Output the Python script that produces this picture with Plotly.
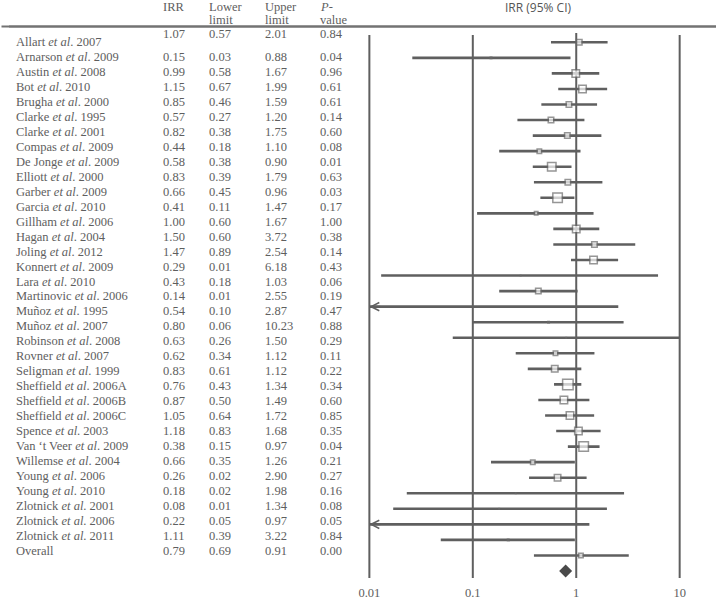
import math
import plotly.graph_objects as go

# ---------------- data ----------------
studies = [
    "Allart <i>et al</i>. 2007", "Arnarson <i>et al</i>. 2009", "Austin <i>et al</i>. 2008",
    "Bot <i>et al</i>. 2010", "Brugha <i>et al</i>. 2000", "Clarke <i>et al</i>. 1995",
    "Clarke <i>et al</i>. 2001", "Compas <i>et al</i>. 2009", "De Jonge <i>et al</i>. 2009",
    "Elliott <i>et al</i>. 2000", "Garber <i>et al</i>. 2009", "Garcia <i>et al</i>. 2010",
    "Gillham <i>et al</i>. 2006", "Hagan <i>et al</i>. 2004", "Joling <i>et al</i>. 2012",
    "Konnert <i>et al</i>. 2009", "Lara <i>et al</i>. 2010", "Martinovic <i>et al</i>. 2006",
    "Muñoz <i>et al</i>. 1995", "Muñoz <i>et al</i>. 2007", "Robinson <i>et al</i>. 2008",
    "Rovner <i>et al</i>. 2007", "Seligman <i>et al</i>. 1999", "Sheffield <i>et al</i>. 2006A",
    "Sheffield <i>et al</i>. 2006B", "Sheffield <i>et al</i>. 2006C", "Spence <i>et al</i>. 2003",
    "Van ‘t Veer <i>et al</i>. 2009", "Willemse <i>et al</i>. 2004", "Young <i>et al</i>. 2006",
    "Young <i>et al</i>. 2010", "Zlotnick <i>et al</i>. 2001", "Zlotnick <i>et al</i>. 2006",
    "Zlotnick <i>et al</i>. 2011",
]
irr = [1.07, 0.15, 0.99, 1.15, 0.85, 0.57, 0.82, 0.44, 0.58, 0.83,
       0.66, 0.41, 1.00, 1.50, 1.47, 0.29, 0.43, 0.14, 0.54, 0.80,
       0.63, 0.62, 0.83, 0.76, 0.87, 1.05, 1.18, 0.38, 0.66, 0.26,
       0.18, 0.08, 0.22, 1.11]
lower = [0.57, 0.026, 0.58, 0.67, 0.46, 0.27, 0.38, 0.18, 0.38, 0.39,
         0.45, 0.11, 0.60, 0.60, 0.89, 0.013, 0.18, 0.006, 0.10, 0.064,
         0.26, 0.34, 0.61, 0.43, 0.50, 0.64, 0.83, 0.15, 0.35, 0.023,
         0.017, 0.006, 0.049, 0.39]
upper = [2.01, 0.88, 1.67, 1.99, 1.59, 1.20, 1.75, 1.10, 0.90, 1.79,
         0.96, 1.47, 1.67, 3.72, 2.54, 6.18, 1.03, 2.55, 2.87, 10.23,
         1.50, 1.12, 1.12, 1.34, 1.49, 1.72, 1.68, 0.97, 1.26, 2.90,
         1.98, 1.34, 0.97, 3.22]
pvalue = [0.84, 0.04, 0.96, 0.61, 0.61, 0.14, 0.60, 0.08, 0.01, 0.63,
          0.03, 0.17, 1.00, 0.38, 0.14, 0.43, 0.06, 0.19, 0.47, 0.88,
          0.29, 0.11, 0.22, 0.34, 0.60, 0.85, 0.35, 0.04, 0.21, 0.27,
          0.16, 0.08, 0.05, 0.84]
# relative study weights (shown as box size)
weights = [7, 3, 9, 9, 7, 7, 7, 6, 10, 7,
           11, 5, 9, 7, 9, 1, 7, 0, 3, 1.5,
           6, 8, 12, 9, 9, 9, 11, 6, 8, 2,
           2, 0, 3, 6]
overall_label = "Overall"
overall_irr, overall_lower, overall_upper, overall_p = 0.79, 0.69, 0.91, 0.00

tick_values = [0.01, 0.1, 1, 10]
tick_labels = ["0.01", "0.1", "1", "10"]
header_cols = [("IRR", ""), ("Lower", "limit"), ("Upper", "limit"), ("<i>P</i>-", "value")]
axis_title = "IRR (95% CI)"

# ---------------- layout constants ----------------
W, H = 720, 600
XMIN, XMAX = 0.01, 10
PX_MIN, PX_MAX = 367, 683
PAD_DEC = 0.02
ppd = (PX_MAX - PX_MIN) / (math.log10(XMAX) - math.log10(XMIN))
dom_l = (PX_MIN - PAD_DEC * ppd) / W
dom_r = (PX_MAX + PAD_DEC * ppd) / W

ROW0, STEP = 42.3, 15.55          # plot rows
TROW0, TSTEP = 42.3, 14.95        # table rows
PLOT_TOP, PLOT_BOT = 30, 583
RULE_Y = 26.5


def py(p):
    return (p - ROW0) / STEP


def ty(p):
    return (p - TROW0) / TSTEP


def paper_y(p):
    return 1 - p / H


TXT = "#5e5e5e"
LINE = "#5f5f5f"
SERIF = "Liberation Serif, Times New Roman, serif"
FS = 12.5

n = len(studies)
rows = list(range(n))
overall_row = n

fig = go.Figure()

# vertical reference lines
for v in tick_values:
    top = 33 if v == 1 else 35
    fig.add_trace(go.Scatter(x=[v, v], y=[py(top), py(578)], mode="lines",
                             line=dict(color=LINE, width=2), hoverinfo="skip",
                             showlegend=False))

# whiskers
wx, wy = [], []
for i in rows:
    wx += [max(lower[i], XMIN), min(upper[i], XMAX), None]
    wy += [i, i, None]
fig.add_trace(go.Scatter(x=wx, y=wy, mode="lines", line=dict(color=LINE, width=2.6),
                         hoverinfo="skip", showlegend=False))

# boxes
bx = [irr[i] for i in rows if weights[i] > 0]
byy = [i for i in rows if weights[i] > 0]
bs = [max(weights[i] - 1.5, 0.5) for i in rows if weights[i] > 0]
fig.add_trace(go.Scatter(x=bx, y=byy, mode="markers",
                         marker=dict(symbol="square", size=bs, color="white",
                                     line=dict(color="#6a6a6a", width=1.5)),
                         hoverinfo="skip", showlegend=False))

# overall diamond
fig.add_trace(go.Scatter(x=[overall_irr], y=[overall_row], mode="markers",
                         marker=dict(symbol="diamond", size=10, color="#4a4a4a",
                                     line=dict(width=0)),
                         hoverinfo="skip", showlegend=False))

# header rule, drawn on the full-width table axes
fig.add_trace(go.Scatter(x=[0, W], y=[ty(RULE_Y), ty(RULE_Y)], xaxis="x2", yaxis="y2",
                         mode="lines", line=dict(color="#737373", width=2),
                         hoverinfo="skip", showlegend=False))

annotations = []
# header rule also as an annotation line in the top layer
annotations.append(dict(x=1, y=paper_y(RULE_Y), xref="paper", yref="paper",
                        ax=-W, ay=0, axref="pixel", ayref="pixel", text="",
                        showarrow=True, arrowhead=0, arrowwidth=1.8, arrowcolor="#737373",
                        standoff=0, startstandoff=0))

# arrows for truncated lower limits
for i in rows:
    if lower[i] < XMIN:
        annotations.append(dict(x=math.log10(XMIN), y=i, xref="x", yref="y",
                                ax=math.log10(XMIN) + 0.12, ay=i, axref="x", ayref="y",
                                text="", showarrow=True, arrowhead=5, arrowsize=0.8,
                                arrowwidth=2, arrowcolor=LINE, standoff=0))

# table text
col_x = [6, 156, 203, 260, 316]


def tann(x, row, text, yshift=0):
    return dict(x=x, y=row, xref="x2", yref="y2", text=text, showarrow=False,
                xanchor="left", yanchor="middle", borderpad=0, yshift=yshift,
                font=dict(family=SERIF, size=FS, color=TXT))


for i in rows:
    ys = 8 if i == 0 else 0
    annotations.append(tann(col_x[0], i, studies[i]))
    annotations.append(tann(col_x[1], i, f"{irr[i]:.2f}", ys))
    annotations.append(tann(col_x[2], i, f"{lower[i]:.2f}", ys))
    annotations.append(tann(col_x[3], i, f"{upper[i]:.2f}", ys))
    annotations.append(tann(col_x[4], i, f"{pvalue[i]:.2f}", ys))
annotations.append(tann(col_x[0], overall_row, overall_label))
annotations.append(tann(col_x[1], overall_row, f"{overall_irr:.2f}"))
annotations.append(tann(col_x[2], overall_row, f"{overall_lower:.2f}"))
annotations.append(tann(col_x[3], overall_row, f"{overall_upper:.2f}"))
annotations.append(tann(col_x[4], overall_row, f"{overall_p:.2f}"))

# header
for k, (l1, l2) in enumerate(header_cols):
    for txt, p in ((l1, 6.5), (l2, 20.0)):
        if txt:
            annotations.append(dict(x=col_x[k + 1] / W, y=paper_y(p), xref="paper", yref="paper",
                                    text=txt, showarrow=False, xanchor="left", yanchor="middle",
                                    borderpad=0, font=dict(family=SERIF, size=FS, color=TXT)))
annotations.append(dict(x=539 / W, y=paper_y(8), xref="paper", yref="paper", text=axis_title,
                        showarrow=False, xanchor="center", yanchor="middle",
                        font=dict(family="Open Sans, Noto Sans, sans-serif", size=12, color="#555")))

fig.update_layout(
    width=W, height=H, margin=dict(l=0, r=0, t=0, b=0),
    paper_bgcolor="white", plot_bgcolor="rgba(0,0,0,0)",
    showlegend=False,
    xaxis=dict(type="log", domain=[dom_l, dom_r],
               range=[math.log10(XMIN) - PAD_DEC, math.log10(XMAX) + PAD_DEC],
               tickvals=tick_values, ticktext=tick_labels, ticks="", showgrid=False,
               zeroline=False, showline=False, anchor="y",
               tickfont=dict(family=SERIF, size=FS, color=TXT)),
    yaxis=dict(domain=[paper_y(PLOT_BOT), paper_y(PLOT_TOP)],
               range=[py(PLOT_BOT), py(PLOT_TOP)], visible=False, anchor="x"),
    xaxis2=dict(domain=[0, 1], range=[0, W], visible=False, anchor="y2"),
    yaxis2=dict(domain=[0, 1], range=[ty(H), ty(0)], visible=False, anchor="x2"),
    annotations=annotations,
)

# remove the browser's default page margin so the figure sits at the window origin
fig.write_html("out.html", config={"displayModeBar": False},
               post_script="document.body.style.margin='0px';")
